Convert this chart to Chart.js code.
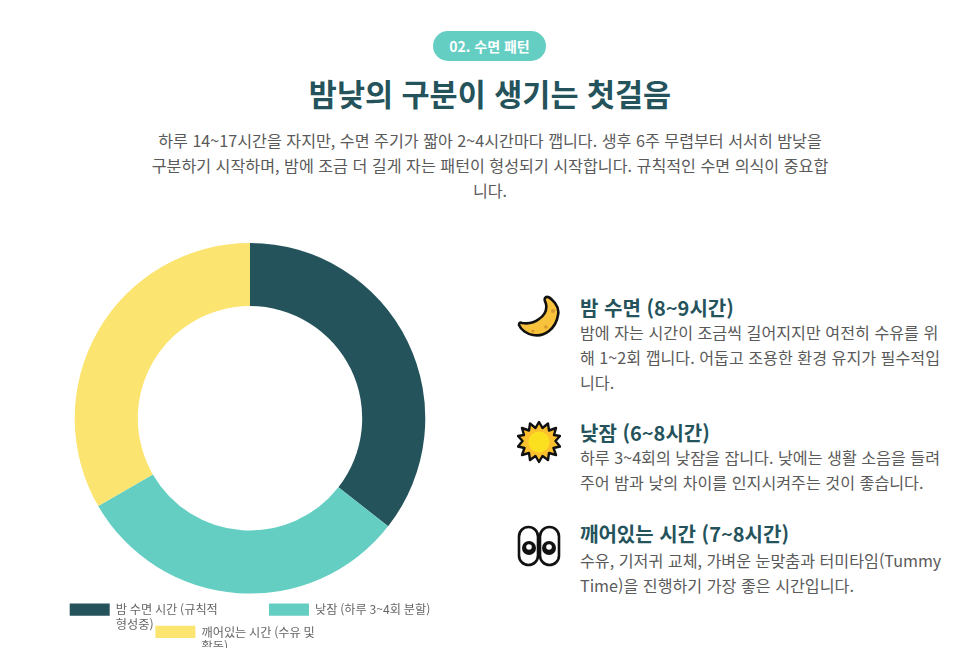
<!DOCTYPE html>
<html lang="ko">
<head>
<meta charset="UTF-8">
<title>수면 패턴</title>
<style>
    html, body { margin: 0; height: 100%; background: #fff; overflow: hidden; }
    body { font-family: 'Noto Sans CJK KR', 'Noto Sans', sans-serif; color: #5a5a5a; position: relative; }
    .abs { position: absolute; }
    #badge { left: 433px; top: 31px; width: 113px; height: 30px; line-height: 30px; border-radius: 15px; background: #64cec3; color: #fff; font-size: 14px; font-weight: 700; text-align: center; }
    #title { left: 0; width: 980px; top: 69px; margin: 0; text-align: center; font-size: 30.5px; line-height: 48px; font-weight: 700; color: #25535c; }
    #intro { left: 0; width: 980px; top: 128px; margin: 0; text-align: center; font-size: 16.15px; line-height: 25px; }
    #chartBox { left: 50px; top: 243px; width: 400px; height: 405px; overflow: hidden; }
    .item { left: 580px; width: 390px; white-space: nowrap; }
    .item h3 { margin: 0; position: relative; top: 1px; font-size: 20px; line-height: 26px; font-weight: 700; color: #25535c; }
    .item p { margin: 0; font-size: 16.15px; line-height: 25px; }
    .icon { left: 517px; width: 44px; height: 44px; }
</style>
</head>
<body>
<div class="abs" id="badge">02. 수면 패턴</div>
<h1 class="abs" id="title">밤낮의 구분이 생기는 첫걸음</h1>
<p class="abs" id="intro">하루 14~17시간을 자지만, 수면 주기가 짧아 2~4시간마다 깹니다. 생후 6주 무렵부터 서서히 밤낮을<br>구분하기 시작하며, 밤에 조금 더 길게 자는 패턴이 형성되기 시작합니다. 규칙적인 수면 의식이 중요합<br>니다.</p>

<div class="abs" id="chartBox"><canvas id="sleepChart" width="400" height="405"></canvas></div>

<svg class="abs icon" style="top:295px" viewBox="0 0 44 44">
    <path d="M28 3 C30 0 34 3 38 8 C41 12 42 16 41 20 C40 27 37 32 32 36 C27 40 21 41 16 40 C10 39 4 35 2 30 C2 28 3 27 5 28 C11 29 17 28 22 24 C28 20 30 14 29 9 C28 6 27 5 28 3 Z" fill="#f9c23c" stroke="#111" stroke-width="2.6" stroke-linejoin="round"/>
    <circle cx="36" cy="16" r="2" fill="#d69a2d"/><circle cx="29" cy="32" r="1.8" fill="#d69a2d"/><circle cx="16" cy="36" r="1.6" fill="#d69a2d"/>
</svg>
<svg class="abs icon" style="top:420px" viewBox="0 0 44 44">
    <polygon points="22,2 25.5,8 31,3.5 32,10.5 39,8 37,15 43,16 38.5,21 43,26.5 36.5,28 39,35 32,33 31,40 25.5,36 22,42 18.5,36 13,40 12,33 5,35 7.5,28 1,26.5 5.5,21 1,16 7,15 5,8 12,10.5 13,3.5 18.5,8" fill="#fbc02d" stroke="#111" stroke-width="2.4" stroke-linejoin="round"/>
    <circle cx="22" cy="22" r="10.5" fill="#fbe020"/>
</svg>
<svg class="abs icon" style="top:525px" viewBox="0 0 44 44">
    <rect x="2" y="2" width="19" height="38" rx="9.5" fill="#fff" stroke="#111" stroke-width="2.6"/>
    <rect x="23" y="2" width="19" height="38" rx="9.5" fill="#fff" stroke="#111" stroke-width="2.6"/>
    <circle cx="12" cy="23" r="7" fill="#111"/><circle cx="32" cy="23" r="7" fill="#111"/>
    <circle cx="12" cy="22" r="2.8" fill="#fff"/><circle cx="32" cy="22" r="2.8" fill="#fff"/>
</svg>

<div class="abs item" style="top:294px">
    <h3>밤 수면 (8~9시간)</h3>
    <p>밤에 자는 시간이 조금씩 길어지지만 여전히 수유를 위<br>해 1~2회 깹니다. 어둡고 조용한 환경 유지가 필수적입<br>니다.</p>
</div>
<div class="abs item" style="top:419px">
    <h3>낮잠 (6~8시간)</h3>
    <p>하루 3~4회의 낮잠을 잡니다. 낮에는 생활 소음을 들려<br>주어 밤과 낮의 차이를 인지시켜주는 것이 좋습니다.</p>
</div>
<div class="abs item" style="top:520px">
    <h3>깨어있는 시간 (7~8시간)</h3>
    <p style="margin-top:2px">수유, 기저귀 교체, 가벼운 눈맞춤과 터미타임(Tummy<br>Time)을 진행하기 가장 좋은 시간입니다.</p>
</div>

<script src="https://cdn.jsdelivr.net/npm/chart.js"></script>
<script>
    const categories = [
        ['밤 수면 시간 (규칙적', '형성중)'],
        '낮잠 (하루 3~4회 분할)',
        ['깨어있는 시간 (수유 및', '활동)']
    ];
    const hours = [8, 7, 7.5];
    const colors = ['#25535c', '#64cec3', '#fbe470'];

    new Chart(document.getElementById('sleepChart').getContext('2d'), {
        type: 'doughnut',
        data: {
            labels: categories,
            datasets: [{ data: hours, backgroundColor: colors, borderWidth: 0 }]
        },
        options: {
            responsive: false,
            animation: false,
            cutout: '64%',
            plugins: {
                legend: {
                    position: 'bottom',
                    labels: {
                        color: '#666',
                        font: { family: "'Noto Sans CJK KR', sans-serif", size: 12.2 }
                    }
                }
            }
        }
    });
</script>
</body>
</html>
